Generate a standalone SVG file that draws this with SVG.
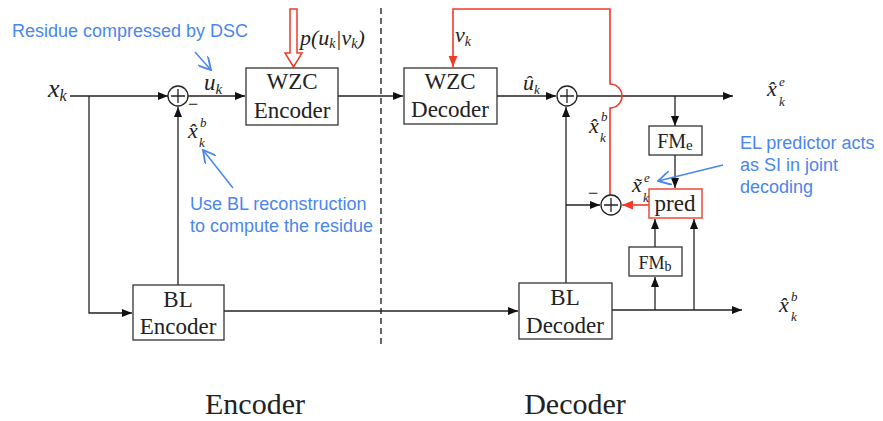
<svg xmlns="http://www.w3.org/2000/svg" width="883" height="421" viewBox="0 0 883 421">
<style>
.box{fill:#fff;stroke:#333;stroke-width:1.3}
.rbox{fill:#fff;stroke:#f04a3a;stroke-width:1.5}
.ln{fill:none;stroke:#222;stroke-width:1.3}
.rl{fill:none;stroke:#f03a2a;stroke-width:1.6}
.bl{fill:none;stroke:#4a86f0;stroke-width:1.5}
.t{font-family:"Liberation Serif","Times New Roman",serif;fill:#222;text-anchor:middle}
.m{font-family:"Liberation Serif","Times New Roman",serif;font-style:italic;fill:#222}
.s{font-size:13px}
.b{font-family:"Liberation Sans",Arial,sans-serif;font-size:18px;fill:#4a86f0}
</style>
<defs>
<marker id="ah" viewBox="0 0 10 10" refX="10" refY="5" markerWidth="10" markerHeight="10" markerUnits="userSpaceOnUse" orient="auto"><path d="M0,1 L10,5 L0,9 Z" fill="#111"/></marker>
<marker id="rah" viewBox="0 0 10 10" refX="10" refY="5" markerWidth="11" markerHeight="11" markerUnits="userSpaceOnUse" orient="auto"><path d="M0,1 L10,5 L0,9 Z" fill="#f03a2a"/></marker>
<marker id="bah" viewBox="0 0 10 10" refX="9" refY="5" markerWidth="14" markerHeight="14" markerUnits="userSpaceOnUse" orient="auto"><path d="M0,0 L9,5 L0,10" fill="none" stroke="#4a86f0" stroke-width="1.3"/></marker>
</defs>

<line x1="381" y1="8" x2="381" y2="346" stroke="#333" stroke-width="1.5" stroke-dasharray="6,4"/>

<g id="connectors">
<path class="ln" d="M70,96 H168" marker-end="url(#ah)"/>
<path class="ln" d="M89,96 V313 H132" marker-end="url(#ah)"/>
<path class="ln" d="M178,285 V107" marker-end="url(#ah)"/>
<path class="ln" d="M188,96 H245" marker-end="url(#ah)"/>
<path class="ln" d="M338,96 H403" marker-end="url(#ah)"/>
<path class="ln" d="M224,311 H518" marker-end="url(#ah)"/>
<path class="ln" d="M497,96 H556" marker-end="url(#ah)"/>
<path class="ln" d="M577,96 H733" marker-end="url(#ah)"/>
<path class="ln" d="M675,96 V126" marker-end="url(#ah)"/>
<path class="ln" d="M675,155 V188" marker-end="url(#ah)"/>
<path class="ln" d="M566,283 V107" marker-end="url(#ah)"/>
<path class="ln" d="M566,205 H600" marker-end="url(#ah)"/>
<path class="ln" d="M612,310 H742" marker-end="url(#ah)"/>
<path class="ln" d="M655,310 V277" marker-end="url(#ah)"/>
<path class="ln" d="M655,247 V219" marker-end="url(#ah)"/>
<path class="ln" d="M694,310 V219" marker-end="url(#ah)"/>
<path class="rl" d="M649,205 H622" marker-end="url(#rah)"/>
<path class="rl" d="M610,195 V108 A12,12 0 0 0 610,84 V9 H453 V67" marker-end="url(#rah)"/>
<path d="M290,9 H297 V53 H302 L293.5,67 L285,53 H290 Z" fill="#fff" stroke="#f03a2a" stroke-width="1.5"/>
<path class="bl" d="M195,52 L211,70" marker-end="url(#bah)"/>
<path class="bl" d="M233,188 L203,150" marker-end="url(#bah)"/>
<path class="bl" d="M723,165 L658,181" marker-end="url(#bah)"/>
</g>

<g id="sum1"><circle cx="178" cy="96" r="10" fill="#fff" stroke="#222" stroke-width="1.3"/><path class="ln" d="M171,96 H185 M178,89 V103"/></g>
<g id="sum2"><circle cx="567" cy="96" r="10" fill="#fff" stroke="#222" stroke-width="1.3"/><path class="ln" d="M560,96 H574 M567,89 V103"/></g>
<g id="sum3"><circle cx="611" cy="205" r="10" fill="#fff" stroke="#222" stroke-width="1.3"/><path class="ln" d="M604,205 H618 M611,198 V212"/></g>

<g id="wzc-encoder"><rect class="box" x="246" y="68" width="92" height="57"/><text class="t" x="292" y="89" font-size="23">WZC</text><text class="t" x="292" y="118" font-size="23">Encoder</text></g>
<g id="wzc-decoder"><rect class="box" x="404" y="68" width="93" height="56"/><text class="t" x="450" y="89" font-size="23">WZC</text><text class="t" x="450" y="117" font-size="23">Decoder</text></g>
<g id="bl-encoder"><rect class="box" x="133" y="285" width="91" height="55"/><text class="t" x="178" y="307" font-size="23">BL</text><text class="t" x="178" y="334" font-size="23">Encoder</text></g>
<g id="bl-decoder"><rect class="box" x="519" y="283" width="93" height="56"/><text class="t" x="565" y="305" font-size="23">BL</text><text class="t" x="565" y="333" font-size="23">Decoder</text></g>
<g id="fm-e"><rect class="box" x="649" y="126" width="53" height="29"/><text class="t" x="675" y="148" font-size="20">FM<tspan font-size="15" dy="2">e</tspan></text></g>
<g id="fm-b"><rect class="box" x="629" y="247" width="53" height="29"/><text class="t" x="655" y="269" font-size="18">FM<tspan font-size="14" dy="2">b</tspan></text></g>
<g id="pred"><rect class="rbox" x="649" y="189" width="53" height="29"/><text class="t" x="675" y="211" font-size="23">pred</text></g>

<g id="labels">
<text class="m" x="48" y="97" font-size="26">x<tspan font-size="16" dy="4">k</tspan></text>
<text class="m" x="204" y="90" font-size="23">u<tspan font-size="15" dy="4">k</tspan></text>
<text class="t" x="193" y="110" font-size="18">−</text>
<text class="m" x="300" y="45" font-size="22">p(u<tspan font-size="14" dy="3">k</tspan><tspan dy="-3">|v</tspan><tspan font-size="14" dy="3">k</tspan><tspan dy="-3">)</tspan></text>
<text class="m" x="455" y="42" font-size="22">v<tspan font-size="14" dy="4">k</tspan></text>
<text class="m" x="523" y="90" font-size="22">û<tspan class="s" dy="4">k</tspan></text>

<text class="m" x="188" y="138" font-size="22">x̂<tspan class="s" x="200" y="127">b</tspan><tspan class="s" x="199" y="147">k</tspan></text>
<text class="m" x="589" y="133" font-size="22">x̂<tspan class="s" x="601" y="121">b</tspan><tspan class="s" x="600" y="142">k</tspan></text>
<text class="m" x="632" y="192" font-size="22">x̃<tspan class="s" x="644" y="182">e</tspan><tspan class="s" x="643" y="202">k</tspan></text>
<text class="t" x="593" y="199" font-size="18">−</text>
<text class="m" x="767" y="96" font-size="22">x̂<tspan class="s" x="779" y="86">e</tspan><tspan class="s" x="779" y="106">k</tspan></text>
<text class="m" x="779" y="312" font-size="22">x̂<tspan class="s" x="791" y="301">b</tspan><tspan class="s" x="791" y="321">k</tspan></text>

<text class="t" x="255" y="414" font-size="30">Encoder</text>
<text class="t" x="575" y="414" font-size="30">Decoder</text>

<text class="b" x="12" y="37">Residue compressed by DSC</text>
<text class="b" x="190" y="210">Use BL reconstruction</text>
<text class="b" x="190" y="232">to compute the residue</text>
<text class="b" x="740" y="149">EL predictor acts</text>
<text class="b" x="740" y="171">as SI in joint</text>
<text class="b" x="740" y="193">decoding</text>
</g>
</svg>
